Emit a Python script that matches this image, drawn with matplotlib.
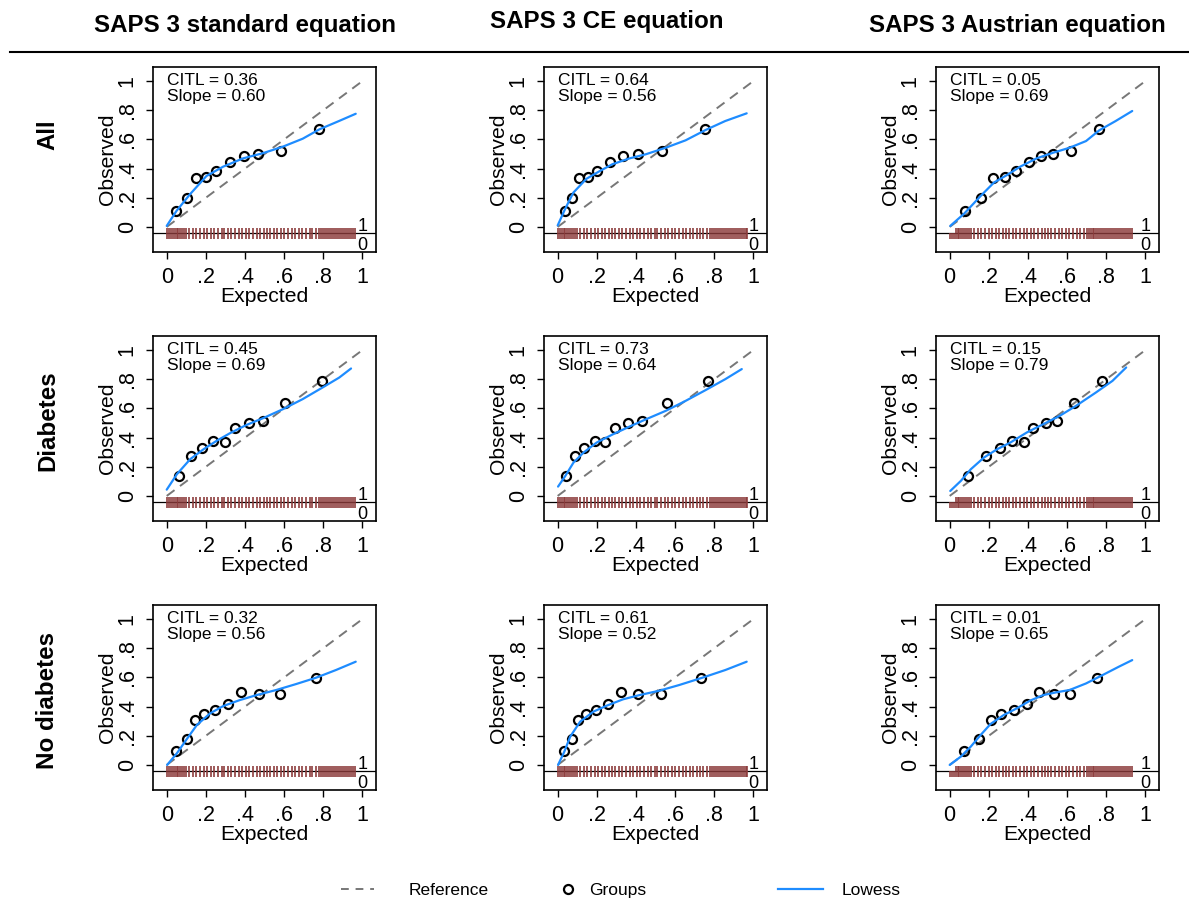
import matplotlib
matplotlib.use('Agg')
import matplotlib.pyplot as plt
from matplotlib.lines import Line2D

plt.rcParams['font.family'] = ['Liberation Sans', 'DejaVu Sans']

rows = ['All', 'Diabetes', 'No diabetes']
cols = ['SAPS 3 standard equation', 'SAPS 3 CE equation', 'SAPS 3 Austrian equation']

citl = [[0.36, 0.64, 0.05],
        [0.45, 0.73, 0.15],
        [0.32, 0.61, 0.01]]
slope = [[0.60, 0.56, 0.69],
         [0.69, 0.64, 0.79],
         [0.56, 0.52, 0.65]]

# observed proportion in each risk group (same groups for all equations in a row)
observed = [
    [0.107, 0.200, 0.336, 0.340, 0.386, 0.448, 0.486, 0.500, 0.524, 0.672],
    [0.135, 0.277, 0.332, 0.378, 0.373, 0.469, 0.497, 0.513, 0.634, 0.785],
    [0.094, 0.176, 0.306, 0.352, 0.374, 0.420, 0.502, 0.486, 0.486, 0.594],
]

# mean expected risk in each group, [row][equation]
expected = [
    [[0.046, 0.102, 0.148, 0.200, 0.253, 0.321, 0.393, 0.468, 0.582, 0.776],
     [0.037, 0.074, 0.110, 0.155, 0.200, 0.265, 0.336, 0.412, 0.532, 0.752],
     [0.077, 0.158, 0.219, 0.283, 0.338, 0.406, 0.468, 0.529, 0.618, 0.764]],
    [[0.063, 0.124, 0.179, 0.239, 0.296, 0.350, 0.420, 0.491, 0.604, 0.794],
     [0.044, 0.089, 0.135, 0.190, 0.241, 0.292, 0.359, 0.433, 0.558, 0.766],
     [0.096, 0.185, 0.256, 0.320, 0.379, 0.428, 0.490, 0.547, 0.633, 0.776]],
    [[0.046, 0.102, 0.146, 0.190, 0.247, 0.313, 0.382, 0.472, 0.577, 0.765],
     [0.034, 0.074, 0.106, 0.145, 0.196, 0.256, 0.322, 0.411, 0.528, 0.735],
     [0.072, 0.148, 0.212, 0.263, 0.330, 0.394, 0.458, 0.532, 0.616, 0.753]],
]

# lowess smoother, [row][equation]
lowess_x = [
    [[0.000, 0.050, 0.119, 0.203, 0.288, 0.390, 0.490, 0.593, 0.695, 0.780, 0.880, 0.966],
     [0.000, 0.037, 0.080, 0.147, 0.215, 0.280, 0.367, 0.450, 0.552, 0.654, 0.755, 0.856, 0.966],
     [0.003, 0.074, 0.158, 0.226, 0.293, 0.360, 0.444, 0.529, 0.613, 0.697, 0.764, 0.848, 0.933]],
    [[0.000, 0.052, 0.120, 0.188, 0.255, 0.323, 0.408, 0.492, 0.594, 0.695, 0.797, 0.882, 0.942],
     [0.002, 0.039, 0.081, 0.132, 0.199, 0.283, 0.368, 0.452, 0.553, 0.654, 0.755, 0.857, 0.941],
     [0.003, 0.057, 0.108, 0.175, 0.242, 0.310, 0.394, 0.478, 0.562, 0.646, 0.747, 0.832, 0.902]],
    [[0.002, 0.052, 0.103, 0.154, 0.222, 0.289, 0.374, 0.459, 0.560, 0.662, 0.763, 0.865, 0.966],
     [0.002, 0.034, 0.064, 0.115, 0.182, 0.250, 0.334, 0.418, 0.519, 0.621, 0.739, 0.857, 0.966],
     [0.000, 0.057, 0.108, 0.158, 0.209, 0.276, 0.343, 0.411, 0.478, 0.545, 0.613, 0.697, 0.781, 0.865, 0.933]],
]
lowess_y = [
    [[0.007, 0.110, 0.224, 0.349, 0.413, 0.470, 0.505, 0.550, 0.605, 0.669, 0.726, 0.776],
     [0.010, 0.120, 0.235, 0.330, 0.383, 0.430, 0.470, 0.498, 0.543, 0.594, 0.664, 0.726, 0.779],
     [0.007, 0.091, 0.212, 0.304, 0.356, 0.413, 0.470, 0.509, 0.543, 0.589, 0.662, 0.726, 0.795]],
    [[0.043, 0.149, 0.252, 0.320, 0.378, 0.430, 0.487, 0.533, 0.595, 0.664, 0.744, 0.812, 0.874],
     [0.064, 0.137, 0.229, 0.297, 0.366, 0.423, 0.476, 0.526, 0.584, 0.652, 0.725, 0.801, 0.870],
     [0.034, 0.103, 0.183, 0.263, 0.320, 0.366, 0.435, 0.492, 0.549, 0.618, 0.709, 0.789, 0.881]],
    [[0.000, 0.080, 0.178, 0.274, 0.354, 0.404, 0.445, 0.479, 0.514, 0.555, 0.598, 0.651, 0.708],
     [0.000, 0.091, 0.194, 0.297, 0.365, 0.406, 0.450, 0.479, 0.509, 0.548, 0.598, 0.651, 0.708],
     [0.000, 0.057, 0.126, 0.205, 0.281, 0.342, 0.388, 0.441, 0.479, 0.498, 0.514, 0.559, 0.616, 0.674, 0.719]],
]

# individual predicted risks shown as rug, one list per equation
rug_std = [0.00, 0.01, 0.02, 0.03, 0.04, 0.05, 0.06, 0.07, 0.08, 0.09, 0.10,
           0.115, 0.135, 0.15, 0.17, 0.19, 0.205, 0.225, 0.24, 0.26, 0.28, 0.295,
           0.315, 0.33, 0.35, 0.37, 0.385, 0.405, 0.42, 0.44, 0.46, 0.475, 0.495,
           0.51, 0.53, 0.55, 0.565, 0.585, 0.60, 0.62, 0.64, 0.655, 0.675, 0.69,
           0.71, 0.73, 0.745, 0.765, 0.78, 0.79, 0.80, 0.81, 0.82, 0.83, 0.84,
           0.85, 0.86, 0.87, 0.88, 0.89, 0.90, 0.91, 0.92, 0.93, 0.94, 0.95, 0.96]
rug_ce = [0.00, 0.01, 0.02, 0.03, 0.04, 0.05, 0.06, 0.07, 0.08, 0.09, 0.10,
          0.115, 0.135, 0.15, 0.17, 0.19, 0.205, 0.225, 0.24, 0.26, 0.28, 0.295,
          0.315, 0.33, 0.35, 0.37, 0.385, 0.405, 0.42, 0.44, 0.46, 0.475, 0.495,
          0.51, 0.53, 0.55, 0.565, 0.585, 0.60, 0.62, 0.64, 0.655, 0.675, 0.69,
          0.71, 0.73, 0.745, 0.765, 0.78, 0.79, 0.80, 0.81, 0.82, 0.83, 0.84,
          0.85, 0.86, 0.87, 0.88, 0.89, 0.90, 0.91, 0.92, 0.93, 0.94, 0.95, 0.96, 0.97]
rug_aut = [0.00, 0.01, 0.02, 0.03, 0.04, 0.05, 0.06, 0.07, 0.08, 0.09, 0.10, 0.11,
           0.125, 0.145, 0.16, 0.18, 0.20, 0.215, 0.235, 0.25, 0.27, 0.29, 0.305,
           0.325, 0.34, 0.36, 0.38, 0.395, 0.415, 0.43, 0.45, 0.47, 0.485, 0.505,
           0.52, 0.54, 0.56, 0.575, 0.595, 0.61, 0.63, 0.65, 0.665, 0.685,
           0.70, 0.71, 0.72, 0.73, 0.74, 0.75, 0.76, 0.77, 0.78, 0.79, 0.80,
           0.81, 0.82, 0.83, 0.84, 0.85, 0.86, 0.87, 0.88, 0.89, 0.90, 0.91, 0.92, 0.93]
rugs = [rug_std, rug_ce, rug_aut]
rug_event_min = [0.0, 0.0, 0.03]

ticks = [0, 0.2, 0.4, 0.6, 0.8, 1]
tick_labels = ['0', '.2', '.4', '.6', '.8', '1']

blue = '#1E8CFF'
rug_col = '#8B3A3A'
ref_col = '#777777'

fig = plt.figure(figsize=(11.89, 9), dpi=100)

lefts = [0.1287, 0.4575, 0.7872]
bottoms = [0.720, 0.4211, 0.1222]
w, h = 0.1876, 0.2056

for i in range(3):
    for j in range(3):
        ax = fig.add_axes([lefts[j], bottoms[i], w, h])
        ax.plot([0, 1], [0, 1], color=ref_col, lw=1.4, dashes=(5, 3.5))
        ax.plot(expected[i][j], observed[i], 'o', ms=6.5, mfc='none',
                mec='black', mew=1.6)
        ax.plot(lowess_x[i][j], lowess_y[i][j], color=blue, lw=1.6,
                solid_joinstyle='round', solid_capstyle='round')

        # rug: events above the line, non-events below
        rx = rugs[j]
        ax.axhline(-0.043, color='black', lw=0.9)
        ax.vlines([x for x in rx if x >= rug_event_min[j]], -0.043, -0.008,
                  color=rug_col, lw=1.3, alpha=0.9)
        ax.vlines(rx, -0.080, -0.043, color=rug_col, lw=1.3, alpha=0.9)
        ax.text(1.0, 0.005, '1', ha='center', va='center', fontsize=13)
        ax.text(1.0, -0.128, '0', ha='center', va='center', fontsize=13)

        # calibration-in-the-large and slope, two lines in one block
        ax.text(0.0, 1.055, 'CITL = %.2f\nSlope = %.2f' % (citl[i][j], slope[i][j]),
                fontsize=12.5, va='top', ha='left', linespacing=1.05)

        ax.set_xlim(-0.07, 1.07)
        ax.set_ylim(-0.172, 1.097)
        ax.set_xticks(ticks)
        ax.set_xticklabels(tick_labels, fontsize=15.5)
        ax.set_yticks(ticks)
        ax.set_yticklabels(tick_labels, fontsize=15.5, rotation=90, va='center')
        ax.tick_params(direction='out', length=5, width=1.0, pad=6)
        for s in ax.spines.values():
            s.set_linewidth(1.2)

        ax.set_xlabel('Expected', fontsize=15.2)
        ax.xaxis.label.set_va('center')
        ax.xaxis.set_label_coords(0.5, -0.242)
        ax.set_ylabel('Observed', fontsize=15.2)
        ax.yaxis.label.set_va('center')
        ax.yaxis.set_label_coords(-0.205, 0.5)

# column headers and separating rule
head_x = [0.206, 0.51, 0.856]
head_y = [0.972, 0.9756, 0.972]
for j in range(3):
    fig.text(head_x[j], head_y[j], cols[j], ha='center', va='center',
             fontsize=17.4, fontweight='bold')
fig.add_artist(Line2D([0.008, 1.0], [0.942, 0.942], transform=fig.transFigure,
                      color='black', lw=1.5))

# row labels
row_y = [0.85, 0.533, 0.222]
for i in range(3):
    fig.text(0.040, row_y[i], rows[i], rotation=90, ha='center', va='center',
             fontsize=17.4, fontweight='bold')

# legend entries spaced along the bottom
h_ref = Line2D([], [], color=ref_col, lw=1.4, dashes=(4, 3.5))
h_grp = Line2D([], [], ls='none', marker='o', ms=6.5, mfc='none', mec='black', mew=1.6)
h_low = Line2D([], [], color=blue, lw=1.6)
fig.legend(handles=[h_ref], labels=['Reference'], loc='center',
           bbox_to_anchor=(0.349, 0.011), frameon=False, fontsize=12.5,
           handlelength=1.9, handletextpad=2.0)
fig.legend(handles=[h_grp], labels=['Groups'], loc='center',
           bbox_to_anchor=(0.507, 0.011), frameon=False, fontsize=12.5,
           handlelength=1.0, handletextpad=0.7)
fig.legend(handles=[h_low], labels=['Lowess'], loc='center',
           bbox_to_anchor=(0.706, 0.011), frameon=False, fontsize=12.5,
           handlelength=2.6, handletextpad=1.1)

fig.savefig('out.png', dpi=100)
